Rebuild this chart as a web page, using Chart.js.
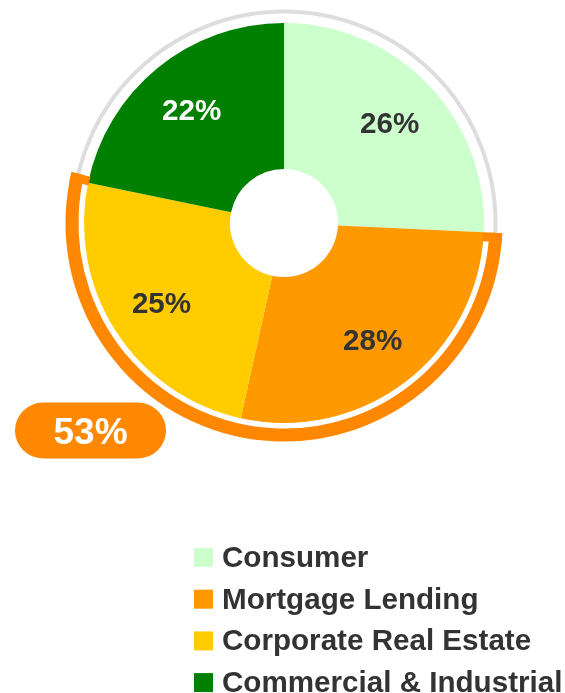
<!DOCTYPE html>
<html><head><meta charset="utf-8">
<script src="https://cdn.jsdelivr.net/npm/chart.js@4.4.1/dist/chart.umd.min.js"></script>
<style>html,body{margin:0;padding:0;background:#fff;overflow:hidden;} canvas{display:block;}</style>
</head><body>
<canvas id="c" width="565" height="693"></canvas>
<script>
// ---- data ----
const categories = ['Consumer', 'Mortgage Lending', 'Corporate Real Estate', 'Commercial & Industrial'];
const shares = [26, 28, 25, 22];
const sliceColors = ['#ccffcc', '#ff9900', '#ffcc00', '#008000'];
const labelColors = ['#333333', '#333333', '#333333', '#ffffff'];
const highlighted = [1, 2];           // Mortgage Lending + Corporate Real Estate
const ringColor = '#ff8800';
const FONT = '"Liberation Sans", Arial, Helvetica, sans-serif';

const overlay = {
  id: 'overlay',
  afterDatasetsDraw(chart) {
    const ctx = chart.ctx;
    const arcs = chart.getDatasetMeta(0).data;
    const p0 = arcs[0].getProps(['x', 'y', 'outerRadius'], true);
    const cx = p0.x, cy = p0.y, R = p0.outerRadius;
    ctx.save();
    // grey outer ring
    ctx.strokeStyle = '#dddddd';
    ctx.lineWidth = 4;
    ctx.beginPath(); ctx.arc(cx, cy, R + 11.5, 0, Math.PI * 2); ctx.stroke();
    // orange highlight ring
    const start = arcs[highlighted[0]].getProps(['startAngle'], true).startAngle;
    const sum = highlighted.reduce((s, i) => s + shares[i], 0);
    const end = start + sum / 100 * Math.PI * 2;
    const rr = R + 12, lw = 13;
    ctx.strokeStyle = ringColor; ctx.lineWidth = lw; ctx.lineCap = 'butt';
    ctx.beginPath(); ctx.arc(cx, cy, rr, start, end); ctx.stroke();
    // end caps
    const capW = 9;
    [[start, 1], [end, -1]].forEach(([a, dir]) => {
      const ux = Math.cos(a), uy = Math.sin(a);
      const nx = -uy * dir * capW / 2, ny = ux * dir * capW / 2;
      ctx.lineWidth = capW;
      ctx.beginPath();
      ctx.moveTo(cx + ux * (R - 1) + nx, cy + uy * (R - 1) + ny);
      ctx.lineTo(cx + ux * (rr + lw / 2) + nx, cy + uy * (rr + lw / 2) + ny);
      ctx.stroke();
    });
    // slice labels
    ctx.font = 'bold 29.6px ' + FONT;
    ctx.textAlign = 'center';
    ctx.textBaseline = 'alphabetic';
    arcs.forEach((arc, i) => {
      const p = arc.getProps(['startAngle', 'endAngle'], true);
      const mid = (p.startAngle + p.endAngle) / 2;
      const r = 146;
      ctx.fillStyle = labelColors[i];
      ctx.fillText(shares[i] + '%', cx + Math.cos(mid) * r, cy + Math.sin(mid) * r + 10.6);
    });
    // pill label
    const px = cx - 193.5, py = cy + 207.5, pw = 151, ph = 56;
    ctx.fillStyle = ringColor;
    ctx.beginPath();
    ctx.roundRect(px - pw / 2, py - ph / 2, pw, ph, ph / 2);
    ctx.fill();
    ctx.fillStyle = '#ffffff';
    ctx.font = 'bold 37px ' + FONT;
    ctx.fillText(sum + '%', px, py + 13);
    // legend
    const lx = 194, firstBase = 567, gap = 41.7, box = 19;
    ctx.textAlign = 'left';
    ctx.font = 'bold 29.6px ' + FONT;
    categories.forEach((c, i) => {
      const by = firstBase + i * gap;
      ctx.fillStyle = sliceColors[i];
      ctx.fillRect(lx, by - box, box, box);
      ctx.fillStyle = '#333333';
      ctx.fillText(c, lx + 28, by);
    });
    ctx.restore();
  }
};

new Chart(document.getElementById('c'), {
  type: 'doughnut',
  data: {
    labels: categories,
    datasets: [{
      data: shares,
      backgroundColor: sliceColors,
      borderWidth: 0,
      hoverOffset: 0,
      offset: 0
    }]
  },
  options: {
    responsive: false,
    animation: false,
    cutout: '27%',
    layout: { padding: { top: 23, bottom: 270, left: 3, right: 0 } },
    plugins: { legend: { display: false }, tooltip: { enabled: false } },
    events: []
  },
  plugins: [overlay]
});
</script>
</body></html>
